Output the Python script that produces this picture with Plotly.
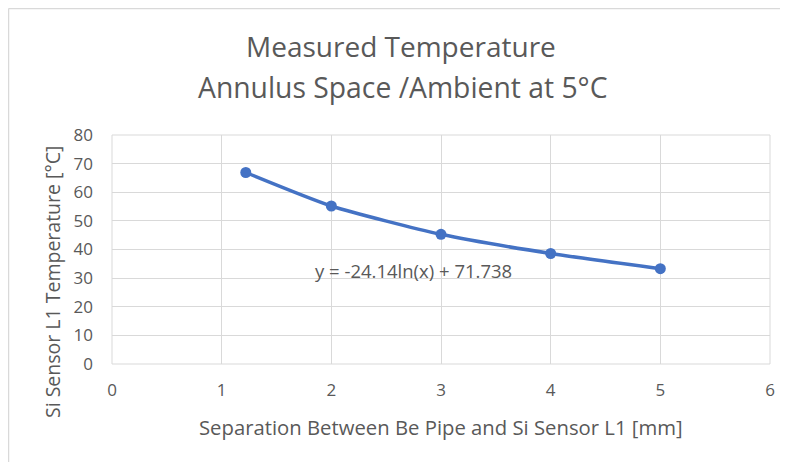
import plotly.graph_objects as go

separation_mm = [1.22, 2, 3, 4, 5]
temperature_c = [66.9, 55.2, 45.3, 38.6, 33.3]
x_ticks = [0, 1, 2, 3, 4, 5, 6]
y_ticks = [0, 10, 20, 30, 40, 50, 60, 70, 80]
title_line1 = "Measured Temperature"
title_line2 = "Annulus Space /Ambient at 5°C"
x_title = "Separation Between Be Pipe and Si Sensor L1 [mm]"
y_title = "Si Sensor L1 Temperature [°C]"
eq_text = "y = -24.14ln(x) + 71.738"

GRAY = "#595959"
GRID = "#d9d9d9"
BLUE = "#4472C4"
FONT = "Open Sans"

OFF = 8  # page offset of the figure (body margin)
W, H = 788 - OFF, 462 - OFF
# plot area in page pixels: x 112..770, y 135..364
L, R, T, B = 112 - OFF, 788 - 770, 135 - OFF, 462 - 364
pw, ph = W - L - R, H - T - B


def px(xp):
    return (xp - OFF - L) / pw


def py(yp):
    return (H - B - (yp - OFF)) / ph


fig = go.Figure()
fig.add_trace(go.Scatter(
    x=separation_mm, y=temperature_c, mode="lines+markers",
    line=dict(color=BLUE, width=3.5, shape="spline", smoothing=0.6),
    marker=dict(color=BLUE, size=11),
    showlegend=False, hoverinfo="x+y",
))

fig.update_layout(
    width=W, height=H,
    margin=dict(l=L, r=R, t=T, b=B, pad=0),
    paper_bgcolor="white", plot_bgcolor="white",
    font=dict(family=FONT, color=GRAY, size=17),
    xaxis=dict(range=[0, 6], tickvals=x_ticks, showgrid=True, gridcolor=GRID,
               gridwidth=1, zeroline=False, showline=False,
               tickfont=dict(size=17, color=GRAY), ticks="", ticklen=0,
               ticklabelstandoff=14),
    yaxis=dict(range=[0, 80], tickvals=y_ticks, showgrid=True, gridcolor=GRID,
               gridwidth=1, zeroline=False, showline=False,
               tickfont=dict(size=17, color=GRAY), ticks="", ticklen=0,
               ticklabelstandoff=18),
    annotations=[
        dict(text=title_line1, x=px(401), y=py(46), xref="paper", yref="paper",
             showarrow=False, xanchor="center", yanchor="middle",
             font=dict(size=28, color=GRAY, family=FONT)),
        dict(text=title_line2, x=px(403), y=py(87), xref="paper", yref="paper",
             showarrow=False, xanchor="center", yanchor="middle",
             font=dict(size=28.3, color=GRAY, family=FONT)),
        dict(text=eq_text, x=2.75, y=32.6, xref="x", yref="y", showarrow=False,
             font=dict(size=18.5, color=GRAY, family=FONT)),
        dict(text=x_title, x=px(441), y=py(427), xref="paper", yref="paper",
             showarrow=False, xanchor="center", yanchor="middle",
             font=dict(size=20.3, color=GRAY, family=FONT)),
        dict(text=y_title, x=px(52), y=py(282), xref="paper", yref="paper",
             showarrow=False, textangle=-90, xanchor="center", yanchor="middle",
             font=dict(size=19.5, color=GRAY, family=FONT)),
    ],
    shapes=[
        dict(type="rect", xref="paper", yref="paper", x0=0, x1=1, y0=0, y1=1,
             line=dict(color=GRID, width=1), layer="below"),
        dict(type="line", xref="paper", yref="paper", x0=px(8.5), x1=px(800),
             y0=py(8.5), y1=py(8.5), line=dict(color=GRID, width=1.5)),
        dict(type="line", xref="paper", yref="paper", x0=px(8.5), x1=px(8.5),
             y0=py(8.5), y1=py(480), line=dict(color=GRID, width=1.5)),
    ],
)

fig.write_html("out.html")
